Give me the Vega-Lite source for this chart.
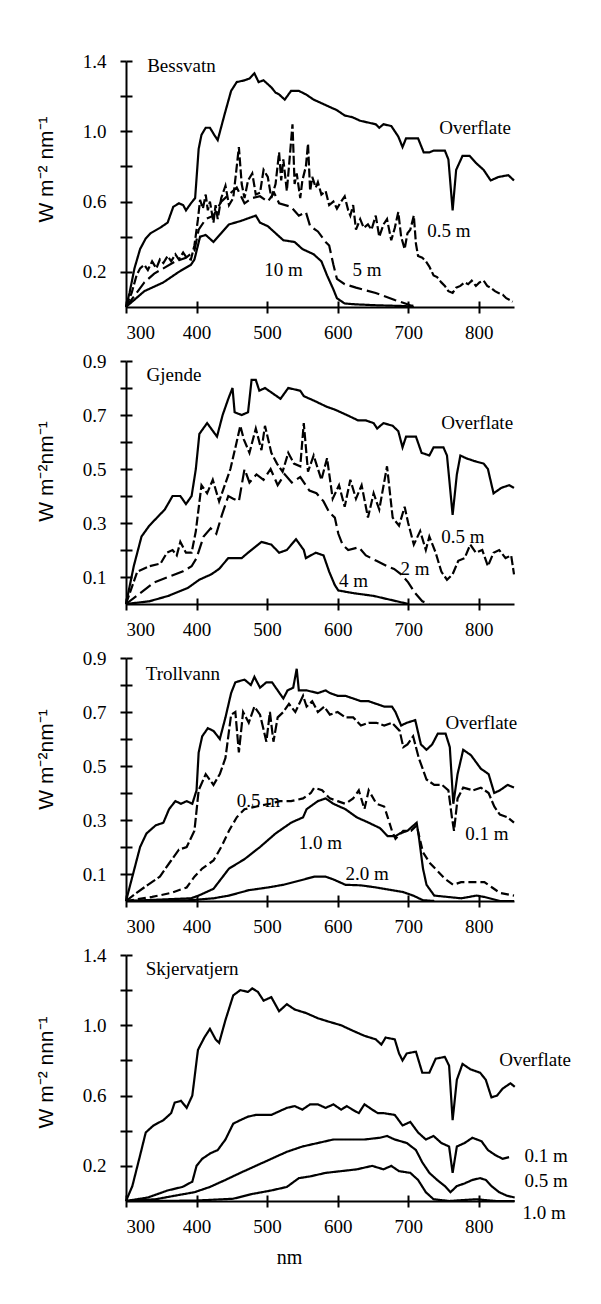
{
"$schema":"https://vega.github.io/schema/vega-lite/v6.json",
"background":"white",
"padding":{"left":34,"top":52,"right":5,"bottom":5},
"spacing":54,
"bounds":"flush",
"resolve":{"scale":{"strokeDash":"independent"}},
"config":{"view":{"stroke":null},"axis":{"grid":false,"tickColor":"black","tickWidth":2,"domainColor":"black","domainWidth":2,"labelColor":"black","titleColor":"black"}},
"datasets":{
"bess":[
{"s":"Overflate","x":300,"y":0},{"s":"Overflate","x":305,"y":0.08},{"s":"Overflate","x":312,"y":0.22},{"s":"Overflate","x":320,"y":0.33},{"s":"Overflate","x":328,"y":0.39},{"s":"Overflate","x":335,"y":0.42},{"s":"Overflate","x":348,"y":0.45},{"s":"Overflate","x":359,"y":0.48},{"s":"Overflate","x":367,"y":0.57},{"s":"Overflate","x":375,"y":0.59},{"s":"Overflate","x":381,"y":0.58},{"s":"Overflate","x":385,"y":0.55},{"s":"Overflate","x":392,"y":0.59},{"s":"Overflate","x":398,"y":0.62},{"s":"Overflate","x":403,"y":0.9},{"s":"Overflate","x":407,"y":0.98},{"s":"Overflate","x":413,"y":1.02},{"s":"Overflate","x":419,"y":1.02},{"s":"Overflate","x":425,"y":0.98},{"s":"Overflate","x":430,"y":0.95},{"s":"Overflate","x":440,"y":1.1},{"s":"Overflate","x":449,"y":1.23},{"s":"Overflate","x":457,"y":1.28},{"s":"Overflate","x":468,"y":1.29},{"s":"Overflate","x":475,"y":1.3},{"s":"Overflate","x":482,"y":1.33},{"s":"Overflate","x":488,"y":1.28},{"s":"Overflate","x":495,"y":1.29},{"s":"Overflate","x":506,"y":1.25},{"s":"Overflate","x":512,"y":1.22},{"s":"Overflate","x":517,"y":1.21},{"s":"Overflate","x":525,"y":1.18},{"s":"Overflate","x":534,"y":1.23},{"s":"Overflate","x":545,"y":1.23},{"s":"Overflate","x":555,"y":1.21},{"s":"Overflate","x":566,"y":1.18},{"s":"Overflate","x":577,"y":1.16},{"s":"Overflate","x":588,"y":1.14},{"s":"Overflate","x":599,"y":1.12},{"s":"Overflate","x":610,"y":1.09},{"s":"Overflate","x":621,"y":1.08},{"s":"Overflate","x":632,"y":1.06},{"s":"Overflate","x":643,"y":1.05},{"s":"Overflate","x":654,"y":1.04},{"s":"Overflate","x":659,"y":1.02},{"s":"Overflate","x":665,"y":1.04},{"s":"Overflate","x":676,"y":1.03},{"s":"Overflate","x":686,"y":0.97},{"s":"Overflate","x":692,"y":0.91},{"s":"Overflate","x":697,"y":0.96},{"s":"Overflate","x":714,"y":0.96},{"s":"Overflate","x":722,"y":0.88},{"s":"Overflate","x":730,"y":0.88},{"s":"Overflate","x":736,"y":0.89},{"s":"Overflate","x":752,"y":0.89},{"s":"Overflate","x":757,"y":0.84},{"s":"Overflate","x":763,"y":0.55},{"s":"Overflate","x":768,"y":0.78},{"s":"Overflate","x":777,"y":0.86},{"s":"Overflate","x":787,"y":0.86},{"s":"Overflate","x":796,"y":0.82},{"s":"Overflate","x":807,"y":0.78},{"s":"Overflate","x":817,"y":0.72},{"s":"Overflate","x":828,"y":0.74},{"s":"Overflate","x":842,"y":0.75},{"s":"Overflate","x":850,"y":0.72},
{"s":"0.5 m","x":300,"y":0},{"s":"0.5 m","x":308,"y":0.08},{"s":"0.5 m","x":315,"y":0.18},{"s":"0.5 m","x":320,"y":0.22},{"s":"0.5 m","x":326,"y":0.24},{"s":"0.5 m","x":331,"y":0.21},{"s":"0.5 m","x":337,"y":0.26},{"s":"0.5 m","x":343,"y":0.22},{"s":"0.5 m","x":348,"y":0.27},{"s":"0.5 m","x":353,"y":0.25},{"s":"0.5 m","x":359,"y":0.29},{"s":"0.5 m","x":364,"y":0.26},{"s":"0.5 m","x":370,"y":0.3},{"s":"0.5 m","x":375,"y":0.27},{"s":"0.5 m","x":381,"y":0.31},{"s":"0.5 m","x":386,"y":0.28},{"s":"0.5 m","x":392,"y":0.27},{"s":"0.5 m","x":397,"y":0.35},{"s":"0.5 m","x":402,"y":0.5},{"s":"0.5 m","x":405,"y":0.61},{"s":"0.5 m","x":409,"y":0.56},{"s":"0.5 m","x":413,"y":0.64},{"s":"0.5 m","x":416,"y":0.55},{"s":"0.5 m","x":419,"y":0.6},{"s":"0.5 m","x":424,"y":0.48},{"s":"0.5 m","x":427,"y":0.58},{"s":"0.5 m","x":430,"y":0.5},{"s":"0.5 m","x":435,"y":0.62},{"s":"0.5 m","x":441,"y":0.69},{"s":"0.5 m","x":446,"y":0.58},{"s":"0.5 m","x":452,"y":0.62},{"s":"0.5 m","x":457,"y":0.8},{"s":"0.5 m","x":460,"y":0.91},{"s":"0.5 m","x":464,"y":0.7},{"s":"0.5 m","x":468,"y":0.62},{"s":"0.5 m","x":473,"y":0.72},{"s":"0.5 m","x":479,"y":0.76},{"s":"0.5 m","x":484,"y":0.64},{"s":"0.5 m","x":490,"y":0.65},{"s":"0.5 m","x":495,"y":0.78},{"s":"0.5 m","x":501,"y":0.74},{"s":"0.5 m","x":506,"y":0.62},{"s":"0.5 m","x":512,"y":0.7},{"s":"0.5 m","x":517,"y":0.88},{"s":"0.5 m","x":520,"y":0.72},{"s":"0.5 m","x":523,"y":0.84},{"s":"0.5 m","x":528,"y":0.66},{"s":"0.5 m","x":531,"y":0.8},{"s":"0.5 m","x":536,"y":1.04},{"s":"0.5 m","x":539,"y":0.7},{"s":"0.5 m","x":542,"y":0.76},{"s":"0.5 m","x":547,"y":0.62},{"s":"0.5 m","x":550,"y":0.72},{"s":"0.5 m","x":555,"y":0.8},{"s":"0.5 m","x":558,"y":0.93},{"s":"0.5 m","x":561,"y":0.66},{"s":"0.5 m","x":564,"y":0.74},{"s":"0.5 m","x":569,"y":0.68},{"s":"0.5 m","x":572,"y":0.71},{"s":"0.5 m","x":577,"y":0.64},{"s":"0.5 m","x":583,"y":0.66},{"s":"0.5 m","x":588,"y":0.58},{"s":"0.5 m","x":594,"y":0.6},{"s":"0.5 m","x":599,"y":0.56},{"s":"0.5 m","x":605,"y":0.6},{"s":"0.5 m","x":610,"y":0.63},{"s":"0.5 m","x":615,"y":0.55},{"s":"0.5 m","x":618,"y":0.52},{"s":"0.5 m","x":622,"y":0.58},{"s":"0.5 m","x":626,"y":0.44},{"s":"0.5 m","x":632,"y":0.5},{"s":"0.5 m","x":637,"y":0.45},{"s":"0.5 m","x":643,"y":0.47},{"s":"0.5 m","x":648,"y":0.44},{"s":"0.5 m","x":654,"y":0.52},{"s":"0.5 m","x":659,"y":0.4},{"s":"0.5 m","x":665,"y":0.47},{"s":"0.5 m","x":670,"y":0.5},{"s":"0.5 m","x":676,"y":0.38},{"s":"0.5 m","x":681,"y":0.45},{"s":"0.5 m","x":686,"y":0.54},{"s":"0.5 m","x":690,"y":0.4},{"s":"0.5 m","x":695,"y":0.33},{"s":"0.5 m","x":699,"y":0.42},{"s":"0.5 m","x":703,"y":0.44},{"s":"0.5 m","x":708,"y":0.52},{"s":"0.5 m","x":711,"y":0.36},{"s":"0.5 m","x":714,"y":0.29},{"s":"0.5 m","x":720,"y":0.28},{"s":"0.5 m","x":725,"y":0.26},{"s":"0.5 m","x":730,"y":0.23},{"s":"0.5 m","x":736,"y":0.18},{"s":"0.5 m","x":741,"y":0.17},{"s":"0.5 m","x":747,"y":0.14},{"s":"0.5 m","x":752,"y":0.12},{"s":"0.5 m","x":757,"y":0.09},{"s":"0.5 m","x":763,"y":0.08},{"s":"0.5 m","x":768,"y":0.11},{"s":"0.5 m","x":774,"y":0.12},{"s":"0.5 m","x":780,"y":0.14},{"s":"0.5 m","x":785,"y":0.13},{"s":"0.5 m","x":790,"y":0.15},{"s":"0.5 m","x":796,"y":0.12},{"s":"0.5 m","x":801,"y":0.14},{"s":"0.5 m","x":807,"y":0.15},{"s":"0.5 m","x":812,"y":0.12},{"s":"0.5 m","x":817,"y":0.11},{"s":"0.5 m","x":823,"y":0.09},{"s":"0.5 m","x":828,"y":0.08},{"s":"0.5 m","x":834,"y":0.07},{"s":"0.5 m","x":839,"y":0.05},{"s":"0.5 m","x":844,"y":0.04},{"s":"0.5 m","x":848,"y":0.03},
{"s":"5 m","x":300,"y":0},{"s":"5 m","x":315,"y":0.08},{"s":"5 m","x":326,"y":0.14},{"s":"5 m","x":340,"y":0.19},{"s":"5 m","x":353,"y":0.22},{"s":"5 m","x":370,"y":0.26},{"s":"5 m","x":385,"y":0.28},{"s":"5 m","x":397,"y":0.32},{"s":"5 m","x":403,"y":0.44},{"s":"5 m","x":413,"y":0.5},{"s":"5 m","x":424,"y":0.52},{"s":"5 m","x":435,"y":0.6},{"s":"5 m","x":446,"y":0.64},{"s":"5 m","x":457,"y":0.68},{"s":"5 m","x":468,"y":0.59},{"s":"5 m","x":479,"y":0.62},{"s":"5 m","x":490,"y":0.63},{"s":"5 m","x":501,"y":0.6},{"s":"5 m","x":510,"y":0.65},{"s":"5 m","x":517,"y":0.59},{"s":"5 m","x":534,"y":0.57},{"s":"5 m","x":545,"y":0.52},{"s":"5 m","x":555,"y":0.54},{"s":"5 m","x":561,"y":0.46},{"s":"5 m","x":572,"y":0.43},{"s":"5 m","x":583,"y":0.37},{"s":"5 m","x":588,"y":0.35},{"s":"5 m","x":594,"y":0.24},{"s":"5 m","x":599,"y":0.16},{"s":"5 m","x":610,"y":0.13},{"s":"5 m","x":626,"y":0.11},{"s":"5 m","x":654,"y":0.08},{"s":"5 m","x":681,"y":0.04},{"s":"5 m","x":703,"y":0.01},{"s":"5 m","x":714,"y":0},
{"s":"10 m","x":300,"y":0},{"s":"10 m","x":326,"y":0.09},{"s":"10 m","x":353,"y":0.14},{"s":"10 m","x":375,"y":0.2},{"s":"10 m","x":392,"y":0.24},{"s":"10 m","x":397,"y":0.27},{"s":"10 m","x":405,"y":0.4},{"s":"10 m","x":413,"y":0.41},{"s":"10 m","x":424,"y":0.37},{"s":"10 m","x":435,"y":0.42},{"s":"10 m","x":446,"y":0.47},{"s":"10 m","x":463,"y":0.49},{"s":"10 m","x":484,"y":0.52},{"s":"10 m","x":490,"y":0.48},{"s":"10 m","x":501,"y":0.46},{"s":"10 m","x":512,"y":0.42},{"s":"10 m","x":523,"y":0.38},{"s":"10 m","x":539,"y":0.37},{"s":"10 m","x":550,"y":0.33},{"s":"10 m","x":566,"y":0.3},{"s":"10 m","x":577,"y":0.26},{"s":"10 m","x":585,"y":0.18},{"s":"10 m","x":594,"y":0.1},{"s":"10 m","x":599,"y":0.05},{"s":"10 m","x":610,"y":0.02},{"s":"10 m","x":626,"y":0.015},{"s":"10 m","x":654,"y":0.01},{"s":"10 m","x":697,"y":0.005},{"s":"10 m","x":708,"y":0}
],
"bessL":[{"t":"Bessvatn","x":330,"y":1.37},{"t":"Overflate","x":744,"y":1.02},{"t":"0.5 m","x":727,"y":0.43},{"t":"10 m","x":496,"y":0.21},{"t":"5 m","x":621,"y":0.21}],
"gje":[
{"s":"Overflate","x":300,"y":0},{"s":"Overflate","x":311,"y":0.14},{"s":"Overflate","x":322,"y":0.25},{"s":"Overflate","x":333,"y":0.29},{"s":"Overflate","x":344,"y":0.32},{"s":"Overflate","x":355,"y":0.35},{"s":"Overflate","x":366,"y":0.4},{"s":"Overflate","x":377,"y":0.4},{"s":"Overflate","x":385,"y":0.37},{"s":"Overflate","x":393,"y":0.4},{"s":"Overflate","x":399,"y":0.5},{"s":"Overflate","x":404,"y":0.63},{"s":"Overflate","x":415,"y":0.67},{"s":"Overflate","x":429,"y":0.62},{"s":"Overflate","x":437,"y":0.7},{"s":"Overflate","x":445,"y":0.76},{"s":"Overflate","x":451,"y":0.8},{"s":"Overflate","x":454,"y":0.71},{"s":"Overflate","x":464,"y":0.7},{"s":"Overflate","x":473,"y":0.71},{"s":"Overflate","x":478,"y":0.83},{"s":"Overflate","x":484,"y":0.83},{"s":"Overflate","x":489,"y":0.79},{"s":"Overflate","x":497,"y":0.8},{"s":"Overflate","x":508,"y":0.78},{"s":"Overflate","x":519,"y":0.76},{"s":"Overflate","x":530,"y":0.8},{"s":"Overflate","x":547,"y":0.79},{"s":"Overflate","x":552,"y":0.77},{"s":"Overflate","x":569,"y":0.75},{"s":"Overflate","x":585,"y":0.73},{"s":"Overflate","x":596,"y":0.72},{"s":"Overflate","x":613,"y":0.7},{"s":"Overflate","x":629,"y":0.68},{"s":"Overflate","x":640,"y":0.68},{"s":"Overflate","x":651,"y":0.67},{"s":"Overflate","x":656,"y":0.65},{"s":"Overflate","x":665,"y":0.67},{"s":"Overflate","x":678,"y":0.66},{"s":"Overflate","x":686,"y":0.64},{"s":"Overflate","x":692,"y":0.58},{"s":"Overflate","x":697,"y":0.62},{"s":"Overflate","x":711,"y":0.62},{"s":"Overflate","x":719,"y":0.56},{"s":"Overflate","x":730,"y":0.55},{"s":"Overflate","x":736,"y":0.58},{"s":"Overflate","x":750,"y":0.58},{"s":"Overflate","x":755,"y":0.55},{"s":"Overflate","x":763,"y":0.33},{"s":"Overflate","x":769,"y":0.48},{"s":"Overflate","x":774,"y":0.55},{"s":"Overflate","x":782,"y":0.54},{"s":"Overflate","x":793,"y":0.53},{"s":"Overflate","x":807,"y":0.52},{"s":"Overflate","x":813,"y":0.5},{"s":"Overflate","x":821,"y":0.41},{"s":"Overflate","x":832,"y":0.43},{"s":"Overflate","x":843,"y":0.44},{"s":"Overflate","x":850,"y":0.43},
{"s":"0.5 m","x":300,"y":0},{"s":"0.5 m","x":316,"y":0.12},{"s":"0.5 m","x":333,"y":0.14},{"s":"0.5 m","x":349,"y":0.15},{"s":"0.5 m","x":358,"y":0.19},{"s":"0.5 m","x":366,"y":0.2},{"s":"0.5 m","x":372,"y":0.18},{"s":"0.5 m","x":377,"y":0.23},{"s":"0.5 m","x":385,"y":0.19},{"s":"0.5 m","x":393,"y":0.19},{"s":"0.5 m","x":399,"y":0.27},{"s":"0.5 m","x":407,"y":0.44},{"s":"0.5 m","x":415,"y":0.41},{"s":"0.5 m","x":423,"y":0.46},{"s":"0.5 m","x":432,"y":0.38},{"s":"0.5 m","x":440,"y":0.44},{"s":"0.5 m","x":448,"y":0.5},{"s":"0.5 m","x":456,"y":0.59},{"s":"0.5 m","x":462,"y":0.66},{"s":"0.5 m","x":467,"y":0.61},{"s":"0.5 m","x":475,"y":0.56},{"s":"0.5 m","x":484,"y":0.65},{"s":"0.5 m","x":492,"y":0.57},{"s":"0.5 m","x":497,"y":0.66},{"s":"0.5 m","x":506,"y":0.56},{"s":"0.5 m","x":514,"y":0.52},{"s":"0.5 m","x":522,"y":0.49},{"s":"0.5 m","x":530,"y":0.56},{"s":"0.5 m","x":538,"y":0.52},{"s":"0.5 m","x":547,"y":0.51},{"s":"0.5 m","x":552,"y":0.67},{"s":"0.5 m","x":558,"y":0.49},{"s":"0.5 m","x":566,"y":0.55},{"s":"0.5 m","x":577,"y":0.46},{"s":"0.5 m","x":585,"y":0.54},{"s":"0.5 m","x":593,"y":0.39},{"s":"0.5 m","x":602,"y":0.44},{"s":"0.5 m","x":610,"y":0.36},{"s":"0.5 m","x":618,"y":0.46},{"s":"0.5 m","x":626,"y":0.39},{"s":"0.5 m","x":634,"y":0.44},{"s":"0.5 m","x":643,"y":0.32},{"s":"0.5 m","x":651,"y":0.41},{"s":"0.5 m","x":659,"y":0.35},{"s":"0.5 m","x":670,"y":0.51},{"s":"0.5 m","x":678,"y":0.32},{"s":"0.5 m","x":687,"y":0.29},{"s":"0.5 m","x":695,"y":0.36},{"s":"0.5 m","x":700,"y":0.3},{"s":"0.5 m","x":708,"y":0.22},{"s":"0.5 m","x":717,"y":0.27},{"s":"0.5 m","x":725,"y":0.2},{"s":"0.5 m","x":730,"y":0.25},{"s":"0.5 m","x":739,"y":0.19},{"s":"0.5 m","x":747,"y":0.12},{"s":"0.5 m","x":755,"y":0.09},{"s":"0.5 m","x":763,"y":0.11},{"s":"0.5 m","x":771,"y":0.16},{"s":"0.5 m","x":780,"y":0.17},{"s":"0.5 m","x":788,"y":0.22},{"s":"0.5 m","x":796,"y":0.19},{"s":"0.5 m","x":805,"y":0.2},{"s":"0.5 m","x":813,"y":0.14},{"s":"0.5 m","x":821,"y":0.19},{"s":"0.5 m","x":829,"y":0.2},{"s":"0.5 m","x":838,"y":0.17},{"s":"0.5 m","x":846,"y":0.18},{"s":"0.5 m","x":850,"y":0.11},
{"s":"2 m","x":300,"y":0},{"s":"2 m","x":320,"y":0.04},{"s":"2 m","x":340,"y":0.08},{"s":"2 m","x":360,"y":0.1},{"s":"2 m","x":380,"y":0.12},{"s":"2 m","x":393,"y":0.14},{"s":"2 m","x":400,"y":0.17},{"s":"2 m","x":410,"y":0.25},{"s":"2 m","x":420,"y":0.28},{"s":"2 m","x":428,"y":0.26},{"s":"2 m","x":436,"y":0.33},{"s":"2 m","x":445,"y":0.4},{"s":"2 m","x":452,"y":0.39},{"s":"2 m","x":460,"y":0.38},{"s":"2 m","x":468,"y":0.5},{"s":"2 m","x":475,"y":0.45},{"s":"2 m","x":485,"y":0.48},{"s":"2 m","x":495,"y":0.46},{"s":"2 m","x":505,"y":0.5},{"s":"2 m","x":515,"y":0.44},{"s":"2 m","x":525,"y":0.48},{"s":"2 m","x":535,"y":0.45},{"s":"2 m","x":547,"y":0.47},{"s":"2 m","x":560,"y":0.42},{"s":"2 m","x":570,"y":0.41},{"s":"2 m","x":580,"y":0.38},{"s":"2 m","x":588,"y":0.34},{"s":"2 m","x":596,"y":0.32},{"s":"2 m","x":601,"y":0.26},{"s":"2 m","x":607,"y":0.22},{"s":"2 m","x":615,"y":0.2},{"s":"2 m","x":630,"y":0.21},{"s":"2 m","x":640,"y":0.18},{"s":"2 m","x":655,"y":0.16},{"s":"2 m","x":670,"y":0.14},{"s":"2 m","x":680,"y":0.13},{"s":"2 m","x":690,"y":0.11},{"s":"2 m","x":700,"y":0.08},{"s":"2 m","x":710,"y":0.04},{"s":"2 m","x":720,"y":0.01},{"s":"2 m","x":730,"y":0},
{"s":"4 m","x":300,"y":0},{"s":"4 m","x":333,"y":0.01},{"s":"4 m","x":360,"y":0.03},{"s":"4 m","x":388,"y":0.06},{"s":"4 m","x":404,"y":0.09},{"s":"4 m","x":421,"y":0.11},{"s":"4 m","x":432,"y":0.13},{"s":"4 m","x":445,"y":0.17},{"s":"4 m","x":464,"y":0.17},{"s":"4 m","x":473,"y":0.19},{"s":"4 m","x":492,"y":0.23},{"s":"4 m","x":506,"y":0.22},{"s":"4 m","x":517,"y":0.19},{"s":"4 m","x":528,"y":0.2},{"s":"4 m","x":541,"y":0.24},{"s":"4 m","x":552,"y":0.2},{"s":"4 m","x":555,"y":0.17},{"s":"4 m","x":569,"y":0.19},{"s":"4 m","x":580,"y":0.18},{"s":"4 m","x":588,"y":0.12},{"s":"4 m","x":596,"y":0.07},{"s":"4 m","x":601,"y":0.05},{"s":"4 m","x":623,"y":0.04},{"s":"4 m","x":651,"y":0.03},{"s":"4 m","x":684,"y":0.01},{"s":"4 m","x":700,"y":0}
],
"gjeL":[{"t":"Gjende","x":329,"y":0.85},{"t":"Overflate","x":747,"y":0.67},{"t":"0.5 m","x":747,"y":0.25},{"t":"2 m","x":689,"y":0.13},{"t":"4 m","x":602,"y":0.087}],
"tro":[
{"s":"Overflate","x":300,"y":0},{"s":"Overflate","x":309,"y":0.09},{"s":"Overflate","x":320,"y":0.2},{"s":"Overflate","x":329,"y":0.25},{"s":"Overflate","x":342,"y":0.28},{"s":"Overflate","x":353,"y":0.29},{"s":"Overflate","x":361,"y":0.34},{"s":"Overflate","x":370,"y":0.37},{"s":"Overflate","x":378,"y":0.36},{"s":"Overflate","x":386,"y":0.37},{"s":"Overflate","x":394,"y":0.36},{"s":"Overflate","x":400,"y":0.41},{"s":"Overflate","x":403,"y":0.55},{"s":"Overflate","x":408,"y":0.61},{"s":"Overflate","x":416,"y":0.64},{"s":"Overflate","x":424,"y":0.63},{"s":"Overflate","x":433,"y":0.6},{"s":"Overflate","x":441,"y":0.68},{"s":"Overflate","x":449,"y":0.77},{"s":"Overflate","x":455,"y":0.81},{"s":"Overflate","x":468,"y":0.82},{"s":"Overflate","x":477,"y":0.8},{"s":"Overflate","x":482,"y":0.83},{"s":"Overflate","x":490,"y":0.79},{"s":"Overflate","x":499,"y":0.81},{"s":"Overflate","x":507,"y":0.81},{"s":"Overflate","x":515,"y":0.78},{"s":"Overflate","x":523,"y":0.75},{"s":"Overflate","x":529,"y":0.78},{"s":"Overflate","x":537,"y":0.79},{"s":"Overflate","x":542,"y":0.86},{"s":"Overflate","x":545,"y":0.78},{"s":"Overflate","x":556,"y":0.78},{"s":"Overflate","x":572,"y":0.77},{"s":"Overflate","x":583,"y":0.78},{"s":"Overflate","x":589,"y":0.77},{"s":"Overflate","x":600,"y":0.76},{"s":"Overflate","x":611,"y":0.76},{"s":"Overflate","x":622,"y":0.75},{"s":"Overflate","x":633,"y":0.74},{"s":"Overflate","x":644,"y":0.74},{"s":"Overflate","x":655,"y":0.73},{"s":"Overflate","x":666,"y":0.72},{"s":"Overflate","x":677,"y":0.72},{"s":"Overflate","x":682,"y":0.7},{"s":"Overflate","x":690,"y":0.65},{"s":"Overflate","x":698,"y":0.66},{"s":"Overflate","x":710,"y":0.67},{"s":"Overflate","x":718,"y":0.58},{"s":"Overflate","x":726,"y":0.56},{"s":"Overflate","x":734,"y":0.58},{"s":"Overflate","x":742,"y":0.62},{"s":"Overflate","x":753,"y":0.62},{"s":"Overflate","x":759,"y":0.57},{"s":"Overflate","x":764,"y":0.36},{"s":"Overflate","x":770,"y":0.47},{"s":"Overflate","x":778,"y":0.56},{"s":"Overflate","x":789,"y":0.54},{"s":"Overflate","x":803,"y":0.49},{"s":"Overflate","x":814,"y":0.47},{"s":"Overflate","x":822,"y":0.4},{"s":"Overflate","x":830,"y":0.41},{"s":"Overflate","x":841,"y":0.43},{"s":"Overflate","x":850,"y":0.42},
{"s":"0.1 m","x":300,"y":0},{"s":"0.1 m","x":315,"y":0.03},{"s":"0.1 m","x":331,"y":0.06},{"s":"0.1 m","x":348,"y":0.09},{"s":"0.1 m","x":364,"y":0.15},{"s":"0.1 m","x":375,"y":0.19},{"s":"0.1 m","x":386,"y":0.2},{"s":"0.1 m","x":397,"y":0.26},{"s":"0.1 m","x":403,"y":0.41},{"s":"0.1 m","x":413,"y":0.47},{"s":"0.1 m","x":424,"y":0.43},{"s":"0.1 m","x":433,"y":0.47},{"s":"0.1 m","x":441,"y":0.53},{"s":"0.1 m","x":449,"y":0.69},{"s":"0.1 m","x":455,"y":0.7},{"s":"0.1 m","x":460,"y":0.55},{"s":"0.1 m","x":466,"y":0.7},{"s":"0.1 m","x":474,"y":0.66},{"s":"0.1 m","x":482,"y":0.72},{"s":"0.1 m","x":490,"y":0.69},{"s":"0.1 m","x":499,"y":0.59},{"s":"0.1 m","x":504,"y":0.7},{"s":"0.1 m","x":509,"y":0.59},{"s":"0.1 m","x":515,"y":0.68},{"s":"0.1 m","x":523,"y":0.7},{"s":"0.1 m","x":531,"y":0.73},{"s":"0.1 m","x":540,"y":0.7},{"s":"0.1 m","x":551,"y":0.76},{"s":"0.1 m","x":556,"y":0.72},{"s":"0.1 m","x":564,"y":0.74},{"s":"0.1 m","x":572,"y":0.7},{"s":"0.1 m","x":581,"y":0.72},{"s":"0.1 m","x":589,"y":0.69},{"s":"0.1 m","x":600,"y":0.7},{"s":"0.1 m","x":611,"y":0.68},{"s":"0.1 m","x":622,"y":0.68},{"s":"0.1 m","x":633,"y":0.65},{"s":"0.1 m","x":644,"y":0.66},{"s":"0.1 m","x":655,"y":0.66},{"s":"0.1 m","x":666,"y":0.65},{"s":"0.1 m","x":677,"y":0.66},{"s":"0.1 m","x":688,"y":0.63},{"s":"0.1 m","x":693,"y":0.57},{"s":"0.1 m","x":699,"y":0.58},{"s":"0.1 m","x":707,"y":0.61},{"s":"0.1 m","x":715,"y":0.53},{"s":"0.1 m","x":726,"y":0.45},{"s":"0.1 m","x":737,"y":0.43},{"s":"0.1 m","x":748,"y":0.43},{"s":"0.1 m","x":757,"y":0.41},{"s":"0.1 m","x":762,"y":0.31},{"s":"0.1 m","x":765,"y":0.26},{"s":"0.1 m","x":770,"y":0.38},{"s":"0.1 m","x":778,"y":0.42},{"s":"0.1 m","x":792,"y":0.41},{"s":"0.1 m","x":803,"y":0.42},{"s":"0.1 m","x":814,"y":0.4},{"s":"0.1 m","x":822,"y":0.35},{"s":"0.1 m","x":830,"y":0.32},{"s":"0.1 m","x":841,"y":0.31},{"s":"0.1 m","x":850,"y":0.29},
{"s":"0.5 m","x":300,"y":0},{"s":"0.5 m","x":337,"y":0.015},{"s":"0.5 m","x":364,"y":0.03},{"s":"0.5 m","x":386,"y":0.05},{"s":"0.5 m","x":397,"y":0.09},{"s":"0.5 m","x":408,"y":0.12},{"s":"0.5 m","x":424,"y":0.15},{"s":"0.5 m","x":435,"y":0.2},{"s":"0.5 m","x":446,"y":0.26},{"s":"0.5 m","x":457,"y":0.31},{"s":"0.5 m","x":468,"y":0.34},{"s":"0.5 m","x":485,"y":0.35},{"s":"0.5 m","x":504,"y":0.36},{"s":"0.5 m","x":518,"y":0.37},{"s":"0.5 m","x":534,"y":0.37},{"s":"0.5 m","x":551,"y":0.38},{"s":"0.5 m","x":562,"y":0.4},{"s":"0.5 m","x":567,"y":0.42},{"s":"0.5 m","x":578,"y":0.41},{"s":"0.5 m","x":589,"y":0.38},{"s":"0.5 m","x":600,"y":0.37},{"s":"0.5 m","x":611,"y":0.36},{"s":"0.5 m","x":622,"y":0.38},{"s":"0.5 m","x":630,"y":0.41},{"s":"0.5 m","x":638,"y":0.34},{"s":"0.5 m","x":644,"y":0.41},{"s":"0.5 m","x":655,"y":0.36},{"s":"0.5 m","x":666,"y":0.35},{"s":"0.5 m","x":671,"y":0.31},{"s":"0.5 m","x":677,"y":0.26},{"s":"0.5 m","x":682,"y":0.23},{"s":"0.5 m","x":693,"y":0.26},{"s":"0.5 m","x":704,"y":0.26},{"s":"0.5 m","x":712,"y":0.28},{"s":"0.5 m","x":721,"y":0.18},{"s":"0.5 m","x":731,"y":0.14},{"s":"0.5 m","x":742,"y":0.11},{"s":"0.5 m","x":753,"y":0.08},{"s":"0.5 m","x":764,"y":0.06},{"s":"0.5 m","x":775,"y":0.07},{"s":"0.5 m","x":792,"y":0.07},{"s":"0.5 m","x":808,"y":0.07},{"s":"0.5 m","x":819,"y":0.05},{"s":"0.5 m","x":830,"y":0.03},{"s":"0.5 m","x":850,"y":0.02},
{"s":"1.0 m","x":300,"y":0},{"s":"1.0 m","x":392,"y":0.01},{"s":"1.0 m","x":403,"y":0.02},{"s":"1.0 m","x":424,"y":0.045},{"s":"1.0 m","x":446,"y":0.12},{"s":"1.0 m","x":468,"y":0.155},{"s":"1.0 m","x":490,"y":0.2},{"s":"1.0 m","x":512,"y":0.25},{"s":"1.0 m","x":534,"y":0.29},{"s":"1.0 m","x":551,"y":0.31},{"s":"1.0 m","x":556,"y":0.34},{"s":"1.0 m","x":572,"y":0.37},{"s":"1.0 m","x":583,"y":0.38},{"s":"1.0 m","x":594,"y":0.36},{"s":"1.0 m","x":611,"y":0.34},{"s":"1.0 m","x":627,"y":0.31},{"s":"1.0 m","x":644,"y":0.29},{"s":"1.0 m","x":660,"y":0.27},{"s":"1.0 m","x":671,"y":0.24},{"s":"1.0 m","x":682,"y":0.24},{"s":"1.0 m","x":688,"y":0.25},{"s":"1.0 m","x":699,"y":0.26},{"s":"1.0 m","x":712,"y":0.29},{"s":"1.0 m","x":715,"y":0.24},{"s":"1.0 m","x":721,"y":0.12},{"s":"1.0 m","x":726,"y":0.06},{"s":"1.0 m","x":737,"y":0.02},{"s":"1.0 m","x":775,"y":0.01},{"s":"1.0 m","x":797,"y":0.02},{"s":"1.0 m","x":808,"y":0.015},{"s":"1.0 m","x":830,"y":0},{"s":"1.0 m","x":850,"y":0},
{"s":"2.0 m","x":300,"y":0},{"s":"2.0 m","x":392,"y":0.003},{"s":"2.0 m","x":424,"y":0.01},{"s":"2.0 m","x":446,"y":0.02},{"s":"2.0 m","x":474,"y":0.04},{"s":"2.0 m","x":501,"y":0.05},{"s":"2.0 m","x":523,"y":0.06},{"s":"2.0 m","x":545,"y":0.075},{"s":"2.0 m","x":567,"y":0.09},{"s":"2.0 m","x":583,"y":0.09},{"s":"2.0 m","x":594,"y":0.08},{"s":"2.0 m","x":611,"y":0.06},{"s":"2.0 m","x":633,"y":0.058},{"s":"2.0 m","x":655,"y":0.05},{"s":"2.0 m","x":677,"y":0.04},{"s":"2.0 m","x":693,"y":0.033},{"s":"2.0 m","x":707,"y":0.02},{"s":"2.0 m","x":721,"y":0.003},{"s":"2.0 m","x":737,"y":0}
],
"troL":[{"t":"Trollvann","x":328,"y":0.84},{"t":"Overflate","x":753,"y":0.66},{"t":"0.5 m","x":457,"y":0.37},{"t":"1.0 m","x":545,"y":0.215},{"t":"2.0 m","x":611,"y":0.1},{"t":"0.1 m","x":781,"y":0.25}],
"skj":[
{"s":"Overflate","x":300,"y":0},{"s":"Overflate","x":309,"y":0.085},{"s":"Overflate","x":320,"y":0.26},{"s":"Overflate","x":328,"y":0.39},{"s":"Overflate","x":339,"y":0.43},{"s":"Overflate","x":353,"y":0.46},{"s":"Overflate","x":364,"y":0.5},{"s":"Overflate","x":369,"y":0.56},{"s":"Overflate","x":378,"y":0.57},{"s":"Overflate","x":386,"y":0.53},{"s":"Overflate","x":394,"y":0.6},{"s":"Overflate","x":402,"y":0.86},{"s":"Overflate","x":411,"y":0.93},{"s":"Overflate","x":419,"y":0.98},{"s":"Overflate","x":427,"y":0.92},{"s":"Overflate","x":432,"y":0.9},{"s":"Overflate","x":441,"y":1.03},{"s":"Overflate","x":452,"y":1.17},{"s":"Overflate","x":462,"y":1.2},{"s":"Overflate","x":473,"y":1.19},{"s":"Overflate","x":479,"y":1.21},{"s":"Overflate","x":487,"y":1.19},{"s":"Overflate","x":495,"y":1.14},{"s":"Overflate","x":506,"y":1.16},{"s":"Overflate","x":517,"y":1.08},{"s":"Overflate","x":528,"y":1.12},{"s":"Overflate","x":539,"y":1.09},{"s":"Overflate","x":555,"y":1.07},{"s":"Overflate","x":572,"y":1.04},{"s":"Overflate","x":588,"y":1.02},{"s":"Overflate","x":605,"y":1.0},{"s":"Overflate","x":621,"y":0.97},{"s":"Overflate","x":638,"y":0.94},{"s":"Overflate","x":654,"y":0.92},{"s":"Overflate","x":662,"y":0.89},{"s":"Overflate","x":668,"y":0.93},{"s":"Overflate","x":681,"y":0.92},{"s":"Overflate","x":687,"y":0.84},{"s":"Overflate","x":692,"y":0.8},{"s":"Overflate","x":698,"y":0.84},{"s":"Overflate","x":711,"y":0.85},{"s":"Overflate","x":720,"y":0.73},{"s":"Overflate","x":730,"y":0.73},{"s":"Overflate","x":739,"y":0.81},{"s":"Overflate","x":752,"y":0.82},{"s":"Overflate","x":758,"y":0.77},{"s":"Overflate","x":763,"y":0.46},{"s":"Overflate","x":769,"y":0.69},{"s":"Overflate","x":777,"y":0.78},{"s":"Overflate","x":788,"y":0.75},{"s":"Overflate","x":802,"y":0.73},{"s":"Overflate","x":810,"y":0.69},{"s":"Overflate","x":818,"y":0.59},{"s":"Overflate","x":826,"y":0.6},{"s":"Overflate","x":834,"y":0.64},{"s":"Overflate","x":845,"y":0.67},{"s":"Overflate","x":851,"y":0.65},
{"s":"0.1 m","x":300,"y":0},{"s":"0.1 m","x":331,"y":0.02},{"s":"0.1 m","x":359,"y":0.06},{"s":"0.1 m","x":380,"y":0.08},{"s":"0.1 m","x":394,"y":0.11},{"s":"0.1 m","x":400,"y":0.2},{"s":"0.1 m","x":408,"y":0.24},{"s":"0.1 m","x":419,"y":0.27},{"s":"0.1 m","x":430,"y":0.29},{"s":"0.1 m","x":441,"y":0.35},{"s":"0.1 m","x":452,"y":0.44},{"s":"0.1 m","x":462,"y":0.46},{"s":"0.1 m","x":473,"y":0.48},{"s":"0.1 m","x":484,"y":0.49},{"s":"0.1 m","x":506,"y":0.49},{"s":"0.1 m","x":517,"y":0.51},{"s":"0.1 m","x":528,"y":0.53},{"s":"0.1 m","x":539,"y":0.54},{"s":"0.1 m","x":550,"y":0.52},{"s":"0.1 m","x":561,"y":0.55},{"s":"0.1 m","x":572,"y":0.55},{"s":"0.1 m","x":583,"y":0.53},{"s":"0.1 m","x":594,"y":0.55},{"s":"0.1 m","x":605,"y":0.52},{"s":"0.1 m","x":613,"y":0.54},{"s":"0.1 m","x":621,"y":0.52},{"s":"0.1 m","x":630,"y":0.5},{"s":"0.1 m","x":638,"y":0.55},{"s":"0.1 m","x":649,"y":0.52},{"s":"0.1 m","x":657,"y":0.5},{"s":"0.1 m","x":665,"y":0.5},{"s":"0.1 m","x":681,"y":0.49},{"s":"0.1 m","x":692,"y":0.43},{"s":"0.1 m","x":703,"y":0.45},{"s":"0.1 m","x":714,"y":0.39},{"s":"0.1 m","x":725,"y":0.35},{"s":"0.1 m","x":736,"y":0.37},{"s":"0.1 m","x":747,"y":0.33},{"s":"0.1 m","x":758,"y":0.31},{"s":"0.1 m","x":763,"y":0.16},{"s":"0.1 m","x":769,"y":0.31},{"s":"0.1 m","x":780,"y":0.33},{"s":"0.1 m","x":791,"y":0.36},{"s":"0.1 m","x":804,"y":0.34},{"s":"0.1 m","x":813,"y":0.29},{"s":"0.1 m","x":824,"y":0.26},{"s":"0.1 m","x":834,"y":0.24},{"s":"0.1 m","x":843,"y":0.25},
{"s":"0.5 m","x":300,"y":0},{"s":"0.5 m","x":342,"y":0.01},{"s":"0.5 m","x":369,"y":0.03},{"s":"0.5 m","x":397,"y":0.05},{"s":"0.5 m","x":419,"y":0.08},{"s":"0.5 m","x":441,"y":0.12},{"s":"0.5 m","x":462,"y":0.16},{"s":"0.5 m","x":484,"y":0.2},{"s":"0.5 m","x":506,"y":0.24},{"s":"0.5 m","x":528,"y":0.28},{"s":"0.5 m","x":550,"y":0.31},{"s":"0.5 m","x":572,"y":0.33},{"s":"0.5 m","x":594,"y":0.35},{"s":"0.5 m","x":616,"y":0.35},{"s":"0.5 m","x":638,"y":0.35},{"s":"0.5 m","x":660,"y":0.36},{"s":"0.5 m","x":670,"y":0.37},{"s":"0.5 m","x":681,"y":0.35},{"s":"0.5 m","x":698,"y":0.33},{"s":"0.5 m","x":711,"y":0.29},{"s":"0.5 m","x":720,"y":0.22},{"s":"0.5 m","x":730,"y":0.16},{"s":"0.5 m","x":741,"y":0.12},{"s":"0.5 m","x":752,"y":0.085},{"s":"0.5 m","x":760,"y":0.05},{"s":"0.5 m","x":769,"y":0.085},{"s":"0.5 m","x":780,"y":0.1},{"s":"0.5 m","x":791,"y":0.12},{"s":"0.5 m","x":802,"y":0.13},{"s":"0.5 m","x":810,"y":0.12},{"s":"0.5 m","x":818,"y":0.085},{"s":"0.5 m","x":829,"y":0.05},{"s":"0.5 m","x":840,"y":0.03},{"s":"0.5 m","x":851,"y":0.02},
{"s":"1.0 m","x":300,"y":0},{"s":"1.0 m","x":397,"y":0.002},{"s":"1.0 m","x":452,"y":0.013},{"s":"1.0 m","x":479,"y":0.04},{"s":"1.0 m","x":506,"y":0.06},{"s":"1.0 m","x":528,"y":0.08},{"s":"1.0 m","x":545,"y":0.13},{"s":"1.0 m","x":561,"y":0.14},{"s":"1.0 m","x":583,"y":0.16},{"s":"1.0 m","x":605,"y":0.17},{"s":"1.0 m","x":627,"y":0.18},{"s":"1.0 m","x":649,"y":0.2},{"s":"1.0 m","x":665,"y":0.18},{"s":"1.0 m","x":676,"y":0.2},{"s":"1.0 m","x":687,"y":0.17},{"s":"1.0 m","x":703,"y":0.16},{"s":"1.0 m","x":714,"y":0.12},{"s":"1.0 m","x":725,"y":0.05},{"s":"1.0 m","x":736,"y":0.01},{"s":"1.0 m","x":758,"y":0},{"s":"1.0 m","x":796,"y":0.01},{"s":"1.0 m","x":824,"y":0},{"s":"1.0 m","x":851,"y":0}
],
"skjL":[{"t":"Skjervatjern","x":328,"y":1.32},{"t":"Overflate","x":829,"y":0.8},{"t":"0.1 m","x":865,"y":0.256},{"t":"0.5 m","x":865,"y":0.114},{"t":"1.0 m","x":862,"y":-0.066}]
},
"vconcat":[
{"width":388,"height":246,
 "layer":[
  {"data":{"name":"bess"},"mark":{"type":"line","color":"black","strokeWidth":2.2},
   "encoding":{
    "x":{"field":"x","type":"quantitative","scale":{"domain":[300,850],"nice":false,"zero":false},"axis":{"values":[300,400,500,600,700,800],"format":"d","tickSize":6,"labelFont":"Liberation Serif","labelFontSize":19,"labelPadding":10,"title":null}},
    "y":{"field":"y","type":"quantitative","scale":{"domain":[0,1.4],"nice":false,"zero":false},"axis":{"values":[0.2,0.4,0.6,0.8,1.0,1.2,1.4],"format":".1f","labelExpr":"abs((datum.value*10)%4-2)<0.01 ? datum.label : ''","tickSize":6,"labelFont":"Liberation Serif","labelFontSize":19,"labelPadding":14,"title":"W m⁻² nm⁻¹","titleFont":"Liberation Sans","titleFontSize":21,"titleFontWeight":"normal","titleX":-70,"titleY":108}},
    "strokeDash":{"field":"s","type":"nominal","scale":{"domain":["Overflate","0.5 m","5 m","10 m"],"range":[[1,0],[9,3],[13,5],[1,0]]},"legend":null}}},
  {"data":{"name":"bessL"},"mark":{"type":"text","align":"left","baseline":"middle","font":"Liberation Serif","fontSize":19,"color":"black"},
   "encoding":{
    "x":{"field":"x","type":"quantitative","axis":{"values":[300,400,500,600,700,800],"tickSize":6,"offset":-6,"domain":false,"labels":false,"title":null,"orient":"bottom"}},
    "y":{"field":"y","type":"quantitative","axis":{"values":[0.2,0.4,0.6,0.8,1.0,1.2,1.4],"tickSize":6,"offset":-6,"domain":false,"labels":false,"title":null,"orient":"left"}},
    "text":{"field":"t"}}}
 ],
 "resolve":{"axis":{"x":"independent","y":"independent"}}
},
{"width":388,"height":243,
 "layer":[
  {"data":{"name":"gje"},"mark":{"type":"line","color":"black","strokeWidth":2.2},
   "encoding":{
    "x":{"field":"x","type":"quantitative","scale":{"domain":[300,850],"nice":false,"zero":false},"axis":{"values":[300,400,500,600,700,800],"format":"d","tickSize":6,"labelFont":"Liberation Serif","labelFontSize":19,"labelPadding":10,"title":null}},
    "y":{"field":"y","type":"quantitative","scale":{"domain":[0,0.9],"nice":false,"zero":false},"axis":{"values":[0.1,0.2,0.3,0.4,0.5,0.6,0.7,0.8,0.9],"format":".1f","labelExpr":"round(datum.value*10)%2==1 ? datum.label : ''","tickSize":6,"labelFont":"Liberation Serif","labelFontSize":19,"labelPadding":14,"title":"W m⁻²nm⁻¹","titleFont":"Liberation Sans","titleFontSize":21,"titleFontWeight":"normal","titleX":-70,"titleY":110}},
    "strokeDash":{"field":"s","type":"nominal","scale":{"domain":["Overflate","0.5 m","2 m","4 m"],"range":[[1,0],[9,3],[13,5],[1,0]]},"legend":null}}},
  {"data":{"name":"gjeL"},"mark":{"type":"text","align":"left","baseline":"middle","font":"Liberation Serif","fontSize":19,"color":"black"},
   "encoding":{
    "x":{"field":"x","type":"quantitative","axis":{"values":[300,400,500,600,700,800],"tickSize":6,"offset":-6,"domain":false,"labels":false,"title":null,"orient":"bottom"}},
    "y":{"field":"y","type":"quantitative","axis":{"values":[0.1,0.2,0.3,0.4,0.5,0.6,0.7,0.8,0.9],"tickSize":6,"offset":-6,"domain":false,"labels":false,"title":null,"orient":"left"}},
    "text":{"field":"t"}}}
 ],
 "resolve":{"axis":{"x":"independent","y":"independent"}}
},
{"width":388,"height":243,
 "layer":[
  {"data":{"name":"tro"},"mark":{"type":"line","color":"black","strokeWidth":2.2},
   "encoding":{
    "x":{"field":"x","type":"quantitative","scale":{"domain":[300,850],"nice":false,"zero":false},"axis":{"values":[300,400,500,600,700,800],"format":"d","tickSize":6,"labelFont":"Liberation Serif","labelFontSize":19,"labelPadding":10,"title":null}},
    "y":{"field":"y","type":"quantitative","scale":{"domain":[0,0.9],"nice":false,"zero":false},"axis":{"values":[0.1,0.2,0.3,0.4,0.5,0.6,0.7,0.8,0.9],"format":".1f","labelExpr":"round(datum.value*10)%2==1 ? datum.label : ''","tickSize":6,"labelFont":"Liberation Serif","labelFontSize":19,"labelPadding":14,"title":"W m⁻²nm⁻¹","titleFont":"Liberation Sans","titleFontSize":21,"titleFontWeight":"normal","titleX":-70,"titleY":101}},
    "strokeDash":{"field":"s","type":"nominal","scale":{"domain":["Overflate","0.1 m","0.5 m","1.0 m","2.0 m"],"range":[[1,0],[10,3],[8,4],[1,0],[1,0]]},"legend":null}}},
  {"data":{"name":"troL"},"mark":{"type":"text","align":"left","baseline":"middle","font":"Liberation Serif","fontSize":19,"color":"black"},
   "encoding":{
    "x":{"field":"x","type":"quantitative","axis":{"values":[300,400,500,600,700,800],"tickSize":6,"offset":-6,"domain":false,"labels":false,"title":null,"orient":"bottom"}},
    "y":{"field":"y","type":"quantitative","axis":{"values":[0.1,0.2,0.3,0.4,0.5,0.6,0.7,0.8,0.9],"tickSize":6,"offset":-6,"domain":false,"labels":false,"title":null,"orient":"left"}},
    "text":{"field":"t"}}}
 ],
 "resolve":{"axis":{"x":"independent","y":"independent"}}
},
{"width":388,"height":246,
 "layer":[
  {"data":{"name":"skj"},"mark":{"type":"line","color":"black","strokeWidth":2.2},
   "encoding":{
    "x":{"field":"x","type":"quantitative","scale":{"domain":[300,850],"nice":false,"zero":false},"axis":{"values":[300,400,500,600,700,800],"format":"d","tickSize":6,"labelFont":"Liberation Serif","labelFontSize":19,"labelPadding":10,"title":"nm","titleFont":"Liberation Serif","titleFontSize":20,"titleFontWeight":"normal","titleX":163,"titleY":46}},
    "y":{"field":"y","type":"quantitative","scale":{"domain":[0,1.4],"nice":false,"zero":false},"axis":{"values":[0.2,0.4,0.6,0.8,1.0,1.2,1.4],"format":".1f","labelExpr":"abs((datum.value*10)%4-2)<0.01 ? datum.label : ''","tickSize":6,"labelFont":"Liberation Serif","labelFontSize":19,"labelPadding":14,"title":"W m⁻² nnn⁻¹","titleFont":"Liberation Sans","titleFontSize":21,"titleFontWeight":"normal","titleX":-70,"titleY":117}},
    "strokeDash":{"field":"s","type":"nominal","scale":{"domain":["Overflate","0.1 m","0.5 m","1.0 m"],"range":[[1,0],[1,0],[1,0],[1,0]]},"legend":null}}},
  {"data":{"name":"skjL"},"mark":{"type":"text","align":"left","baseline":"middle","font":"Liberation Serif","fontSize":19,"color":"black"},
   "encoding":{
    "x":{"field":"x","type":"quantitative","axis":{"values":[300,400,500,600,700,800],"tickSize":6,"offset":-6,"domain":false,"labels":false,"title":null,"orient":"bottom"}},
    "y":{"field":"y","type":"quantitative","axis":{"values":[0.2,0.4,0.6,0.8,1.0,1.2,1.4],"tickSize":6,"offset":-6,"domain":false,"labels":false,"title":null,"orient":"left"}},
    "text":{"field":"t"}}}
 ],
 "resolve":{"axis":{"x":"independent","y":"independent"}}
}
]
}
